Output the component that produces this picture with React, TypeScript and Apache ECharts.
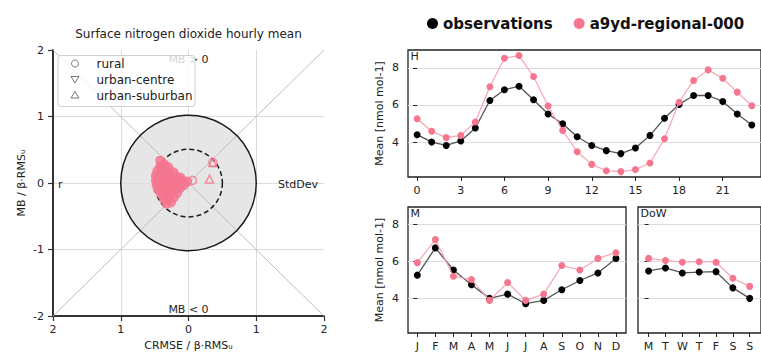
import React, { useEffect, useRef } from 'react';
import * as echarts from 'echarts';

// ---------- data ----------
const hours = [0, 1, 2, 3, 4, 5, 6, 7, 8, 9, 10, 11, 12, 13, 14, 15, 16, 17, 18, 19, 20, 21, 22, 23];
const hourObs = [4.40, 4.00, 3.82, 4.06, 4.76, 6.24, 6.82, 7.01, 6.28, 5.51, 4.99, 4.29, 3.82, 3.54, 3.38, 3.68, 4.36, 5.28, 6.03, 6.51, 6.51, 6.19, 5.51, 4.92];
const hourMod = [5.26, 4.58, 4.24, 4.36, 5.08, 6.98, 8.52, 8.66, 7.53, 5.94, 4.63, 3.48, 2.80, 2.46, 2.41, 2.52, 2.87, 4.18, 6.15, 7.32, 7.89, 7.44, 6.69, 5.96];
const months = ['J', 'F', 'M', 'A', 'M', 'J', 'J', 'A', 'S', 'O', 'N', 'D'];
const monthObs = [5.26, 6.74, 5.54, 4.74, 4.00, 4.23, 3.71, 3.89, 4.47, 4.97, 5.38, 6.17];
const monthMod = [5.94, 7.19, 5.20, 5.02, 3.89, 4.86, 3.89, 4.23, 5.78, 5.54, 6.17, 6.48];
const days = ['M', 'T', 'W', 'T', 'F', 'S', 'S'];
const dowObs = [5.49, 5.65, 5.38, 5.43, 5.45, 4.57, 4.00];
const dowMod = [6.17, 6.06, 5.96, 5.99, 5.96, 5.09, 4.65];
const hourTicks = [0, 3, 6, 9, 12, 15, 18, 21];
const monthTicks = [0, 1, 2, 3, 4, 5, 6, 7, 8, 9, 10, 11];
const dayTicks = [0, 1, 2, 3, 4, 5, 6];
const meanTicks = [4, 6, 8];

// target diagram (left)
const diagA = [[-2, 2], [2, -2]];
const diagB = [[-2, -2], [2, 2]];
const circles = [[0, 0, 1, 0], [0, 0, 0.5, 1]];
const ruralBlob = [
  [-0.41, 0.33], [-0.36, 0.28], [-0.42, 0.24], [-0.30, 0.24], [-0.46, 0.18], [-0.38, 0.18], [-0.30, 0.18], [-0.22, 0.16],
  [-0.48, 0.11], [-0.41, 0.11], [-0.34, 0.12], [-0.27, 0.11], [-0.19, 0.10], [-0.12, 0.08],
  [-0.48, 0.04], [-0.40, 0.04], [-0.33, 0.05], [-0.25, 0.04], [-0.17, 0.04], [-0.09, 0.03], [-0.02, 0.02],
  [-0.47, -0.03], [-0.39, -0.03], [-0.31, -0.02], [-0.23, -0.03], [-0.15, -0.02], [-0.07, -0.03],
  [-0.45, -0.10], [-0.37, -0.10], [-0.29, -0.09], [-0.21, -0.10], [-0.13, -0.08],
  [-0.40, -0.17], [-0.33, -0.17], [-0.25, -0.16], [-0.17, -0.15],
  [-0.36, -0.24], [-0.29, -0.23], [-0.22, -0.22],
  [-0.32, -0.31], [-0.26, -0.29],
];
const ruralOut = [[-0.42, 0.34], [0.06, 0.04], [0.36, 0.31]];
const centrePts = [[-0.44, -0.15], [-0.36, -0.27], [-0.20, -0.05], [-0.46, 0.08]];
const suburbanPts = [[0.31, 0.06], [0.36, 0.31], [-0.28, 0.0], [-0.38, 0.15]];

const PINK = '#f5768e';
const PINK_LINE = '#f7a6b5';
const TXT = '#222';
const FONT = 'DejaVu Sans';

const pairs = (xs: number[], ys: number[]) => ys.map((y, i) => [xs[i], y]);

function rightX(gridIndex: number, min: number, max: number, ticks: number[], labels?: string[]) {
  return {
    type: 'value', gridIndex, min, max,
    axisLine: { show: false },
    axisTick: { show: true, customValues: ticks, length: 4, lineStyle: { color: TXT } },
    axisLabel: {
      customValues: ticks, fontSize: 11, color: TXT, margin: 8, fontFamily: FONT,
      formatter: labels ? (v: number) => labels[Math.round(v)] : (v: number) => String(v),
    },
    splitLine: { show: false },
  };
}
function rightY(gridIndex: number, withLabels: boolean) {
  return {
    type: 'value', gridIndex, min: 2.12, max: 8.96,
    name: withLabels ? 'Mean [nmol mol-1]' : '',
    nameLocation: 'middle', nameGap: 23,
    nameTextStyle: { fontSize: 11, color: TXT, fontFamily: FONT },
    axisLine: { show: false },
    axisTick: { show: true, customValues: meanTicks, length: 4, lineStyle: { color: TXT } },
    axisLabel: { show: withLabels, customValues: meanTicks, fontSize: 11, color: TXT, margin: 9, fontFamily: FONT },
    splitLine: { show: true, lineStyle: { color: '#dcdcdc', width: 1 } },
  };
}

function lineSeries(name: string, xi: number, data: number[][], obs: boolean) {
  return {
    name, type: 'line', xAxisIndex: xi, yAxisIndex: xi, data,
    symbol: 'circle', symbolSize: 7,
    itemStyle: { color: obs ? '#000' : PINK },
    lineStyle: { color: obs ? '#555' : PINK_LINE, width: obs ? 1.3 : 1.2 },
    z: obs ? 4 : 5,
  };
}

const boxGrid = { show: true, borderColor: '#222', borderWidth: 1.3, backgroundColor: 'rgba(0,0,0,0)' };

const option: any = {
  animation: false,
  textStyle: { fontFamily: FONT },
  legend: [{
    data: ['observations', 'a9yd-regional-000'],
    left: 422, top: 11, icon: 'circle', itemWidth: 11, itemHeight: 11, itemGap: 21,
    textStyle: { fontSize: 15, fontWeight: 'bold', color: '#111', fontFamily: FONT },
    selectedMode: false,
  }],
  grid: [
    { left: 53, top: 50, width: 271, height: 270 },
    { left: 408, top: 50, width: 360, height: 127, ...boxGrid },
    { left: 408, top: 207, width: 218, height: 126, ...boxGrid },
    { left: 638, top: 207, width: 131, height: 126, ...boxGrid },
  ],
  xAxis: [
    {
      type: 'value', gridIndex: 0, min: -2, max: 2, interval: 1, z: 1,
      name: 'CRMSE / β·RMSᵤ', nameLocation: 'middle', nameGap: 23,
      nameTextStyle: { fontSize: 11, color: TXT, fontFamily: FONT },
      axisLine: { show: true, onZero: false, lineStyle: { color: '#333', width: 2 } },
      axisTick: { show: true, length: 5, lineStyle: { color: '#333', width: 1.2 } },
      axisLabel: { fontSize: 11, color: TXT, margin: 8, formatter: (v: number) => String(Math.abs(v)) },
      splitLine: { show: true, showMinLine: false, showMaxLine: false, lineStyle: { color: '#dcdcdc' } },
    },
    rightX(1, -0.627, 23.63, hourTicks),
    rightX(2, -0.515, 11.555, monthTicks, months),
    rightX(3, -0.63, 6.67, dayTicks, days),
  ],
  yAxis: [
    {
      type: 'value', gridIndex: 0, min: -2, max: 2, interval: 1, z: 1,
      name: 'MB / β·RMSᵤ', nameLocation: 'middle', nameGap: 26,
      nameTextStyle: { fontSize: 11, color: TXT, fontFamily: FONT },
      axisLine: { show: true, onZero: false, lineStyle: { color: '#333', width: 2 } },
      axisTick: { show: true, length: 5, lineStyle: { color: '#333', width: 1.2 } },
      axisLabel: { fontSize: 11, color: TXT, margin: 9 },
      splitLine: { show: true, showMinLine: false, showMaxLine: false, lineStyle: { color: '#dcdcdc' } },
    },
    rightY(1, true),
    rightY(2, true),
    rightY(3, false),
  ],
  series: [
    {
      type: 'custom', xAxisIndex: 0, yAxisIndex: 0, z: 0, silent: true,
      data: [circles[0]],
      renderItem: (_p: any, api: any) => {
        const c = api.coord([api.value(0), api.value(1)]);
        const r = api.size([api.value(2), 0])[0];
        return { type: 'circle', shape: { cx: c[0], cy: c[1], r }, style: { fill: '#e6e6e6', stroke: 'none' } };
      },
    },
    {
      type: 'line', xAxisIndex: 0, yAxisIndex: 0, data: diagA, symbol: 'none', silent: true, z: 2,
      lineStyle: { color: '#bdbdbd', width: 1 },
    },
    {
      type: 'line', xAxisIndex: 0, yAxisIndex: 0, data: diagB, symbol: 'none', silent: true, z: 2,
      lineStyle: { color: '#bdbdbd', width: 1 },
    },
    {
      type: 'custom', xAxisIndex: 0, yAxisIndex: 0, z: 3, silent: true,
      data: circles,
      renderItem: (_p: any, api: any) => {
        const c = api.coord([api.value(0), api.value(1)]);
        const r = api.size([api.value(2), 0])[0];
        const dashed = api.value(3) === 1;
        return {
          type: 'circle', shape: { cx: c[0], cy: c[1], r },
          style: { fill: 'none', stroke: '#1a1a1a', lineWidth: 1.5, lineDash: dashed ? [5, 3] : null },
        };
      },
    },
    {
      name: 'rural', type: 'scatter', xAxisIndex: 0, yAxisIndex: 0, data: ruralBlob, symbol: 'circle', symbolSize: 9, z: 4,
      itemStyle: { color: PINK, borderColor: PINK, borderWidth: 1.2 },
    },
    {
      name: 'rural', type: 'scatter', xAxisIndex: 0, yAxisIndex: 0, data: ruralOut, symbol: 'circle', symbolSize: 8, z: 5,
      itemStyle: { color: 'rgba(0,0,0,0)', borderColor: PINK, borderWidth: 1.5 },
    },
    {
      name: 'urban-centre', type: 'scatter', xAxisIndex: 0, yAxisIndex: 0, data: centrePts, symbol: 'triangle', symbolRotate: 180, symbolSize: 8, z: 5,
      itemStyle: { color: 'rgba(0,0,0,0)', borderColor: PINK, borderWidth: 1.5 },
    },
    {
      name: 'urban-suburban', type: 'scatter', xAxisIndex: 0, yAxisIndex: 0, data: suburbanPts, symbol: 'triangle', symbolSize: 8, z: 5,
      itemStyle: { color: 'rgba(0,0,0,0)', borderColor: PINK, borderWidth: 1.5 },
    },
    lineSeries('observations', 1, pairs(hours, hourObs), true),
    lineSeries('a9yd-regional-000', 1, pairs(hours, hourMod), false),
    lineSeries('observations', 2, pairs(monthTicks, monthObs), true),
    lineSeries('a9yd-regional-000', 2, pairs(monthTicks, monthMod), false),
    lineSeries('observations', 3, pairs(dayTicks, dowObs), true),
    lineSeries('a9yd-regional-000', 3, pairs(dayTicks, dowMod), false),
  ],
  graphic: [
    { type: 'text', x: 188.5, y: 34, z: 10, style: { text: 'Surface nitrogen dioxide hourly mean', fontSize: 12, fill: TXT, fontFamily: FONT, textAlign: 'center', textVerticalAlign: 'middle' } },
    { type: 'text', x: 188.5, y: 59, z: 10, style: { text: 'MB > 0', fontSize: 11, fill: TXT, fontFamily: FONT, textAlign: 'center', textVerticalAlign: 'middle' } },
    { type: 'text', x: 188.5, y: 309, z: 10, style: { text: 'MB < 0', fontSize: 11, fill: TXT, fontFamily: FONT, textAlign: 'center', textVerticalAlign: 'middle' } },
    { type: 'text', x: 58, y: 184, z: 10, style: { text: 'r', fontSize: 11, fill: TXT, fontFamily: FONT, textAlign: 'left', textVerticalAlign: 'middle' } },
    { type: 'text', x: 318, y: 184, z: 10, style: { text: 'StdDev', fontSize: 11, fill: TXT, fontFamily: FONT, textAlign: 'right', textVerticalAlign: 'middle' } },
    { type: 'rect', z: 11, shape: { x: 58, y: 55.5, width: 137, height: 51, r: 3 }, style: { fill: 'rgba(255,255,255,0.8)', stroke: '#cfcfcf', lineWidth: 1 } },
    { type: 'circle', z: 12, shape: { cx: 75, cy: 63.5, r: 3.5 }, style: { fill: 'none', stroke: '#777', lineWidth: 1 } },
    { type: 'polygon', z: 12, shape: { points: [[71, 76.5], [79, 76.5], [75, 83]] }, style: { fill: 'none', stroke: '#777', lineWidth: 1 } },
    { type: 'polygon', z: 12, shape: { points: [[75, 91.5], [79, 98], [71, 98]] }, style: { fill: 'none', stroke: '#777', lineWidth: 1 } },
    { type: 'text', x: 96.5, y: 63.5, z: 12, style: { text: 'rural', fontSize: 12, fill: TXT, fontFamily: FONT, textVerticalAlign: 'middle' } },
    { type: 'text', x: 96.5, y: 79.5, z: 12, style: { text: 'urban-centre', fontSize: 12, fill: TXT, fontFamily: FONT, textVerticalAlign: 'middle' } },
    { type: 'text', x: 96.5, y: 95.5, z: 12, style: { text: 'urban-suburban', fontSize: 12, fill: TXT, fontFamily: FONT, textVerticalAlign: 'middle' } },
    { type: 'text', x: 410.5, y: 56, z: 12, style: { text: 'H', fontSize: 11, fill: TXT, fontFamily: FONT, textVerticalAlign: 'middle' } },
    { type: 'text', x: 410.5, y: 213, z: 12, style: { text: 'M', fontSize: 11, fill: TXT, fontFamily: FONT, textVerticalAlign: 'middle' } },
    { type: 'text', x: 640.5, y: 213, z: 12, style: { text: 'DoW', fontSize: 11, fill: TXT, fontFamily: FONT, textVerticalAlign: 'middle' } },
  ],
};

export default function App() {
  const ref = useRef<HTMLDivElement>(null);
  useEffect(() => {
    const chart = echarts.init(ref.current!, null, { renderer: 'svg' });
    chart.setOption(option);
    return () => chart.dispose();
  }, []);
  return <div ref={ref} style={{ position: 'absolute', left: 0, top: 0, width: 761, height: 356, background: '#fff' }} />;
}
